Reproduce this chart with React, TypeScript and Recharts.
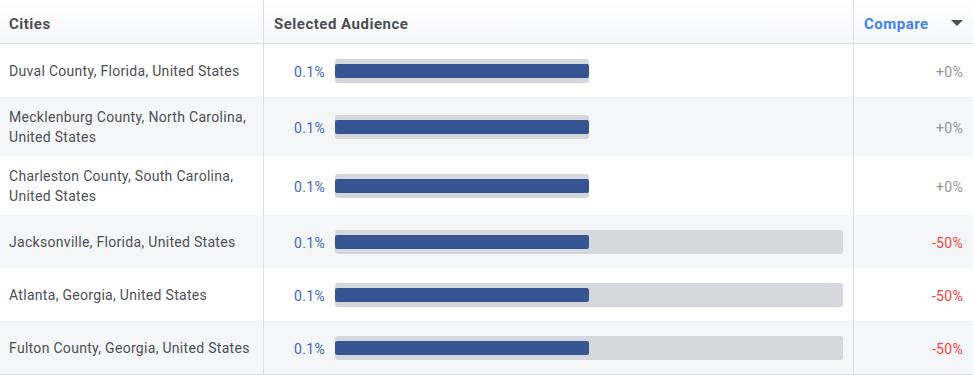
import { BarChart, Bar, XAxis, YAxis } from "recharts";

const cities = [
  "Duval County, Florida, United States",
  "Mecklenburg County, North Carolina, United States",
  "Charleston County, South Carolina, United States",
  "Jacksonville, Florida, United States",
  "Atlanta, Georgia, United States",
  "Fulton County, Georgia, United States",
];
const selected = [0.1, 0.1, 0.1, 0.1, 0.1, 0.1];
const compare = [0.1, 0.1, 0.1, 0.2, 0.2, 0.2];
const changes = ["+0%", "+0%", "+0%", "-50%", "-50%", "-50%"];

const FONT = "Roboto, 'Helvetica Neue', Arial, sans-serif";
const BORDER = "#dddfe2";
const TEXT = "#4b4f56";

function RowBar({ city, sel, cmp }: { city: string; sel: number; cmp: number }) {
  const data = [{ city, sel, cmp }];
  return (
    <BarChart width={508} height={53} data={data} layout="vertical" margin={{ top: 0, right: 0, bottom: 0, left: 0 }}>
      <XAxis type="number" domain={[0, 0.2]} hide />
      <YAxis yAxisId="track" type="category" dataKey="city" hide />
      <YAxis yAxisId="fill" type="category" dataKey="city" hide />
      <Bar yAxisId="track" dataKey="cmp" fill="#d4d7dc" barSize={24} radius={3} isAnimationActive={false} />
      <Bar yAxisId="fill" dataKey="sel" fill="#365491" barSize={14} radius={2} isAnimationActive={false} />
    </BarChart>
  );
}

export default function App() {
  return (
    <div
      style={{
        width: 973,
        height: 375,
        fontFamily: FONT,
        fontSize: 14,
        letterSpacing: "0.3px",
        color: TEXT,
        background: "#fff",
        overflow: "hidden",
      }}
    >
      <style>{"body{margin:0}"}</style>
      <div
        style={{
          display: "flex",
          height: 43,
          borderBottom: `1px solid ${BORDER}`,
          background: "linear-gradient(#ffffff, #f6f7f9)",
          fontWeight: 700,
          fontSize: 15,
          letterSpacing: "0.5px",
          lineHeight: "38px",
          boxSizing: "content-box",
        }}
      >
        <div style={{ width: 264, padding: "5px 0 0 9px", boxSizing: "border-box", borderRight: `1px solid ${BORDER}` }}>Cities</div>
        <div style={{ width: 590, padding: "5px 0 0 10px", boxSizing: "border-box", borderRight: `1px solid ${BORDER}` }}>
          Selected Audience
        </div>
        <div style={{ flex: 1, padding: "5px 0 0 10px", color: "#4080ff", position: "relative" }}>
          Compare
          <span
            style={{
              position: "absolute",
              right: 10,
              top: 20,
              width: 0,
              height: 0,
              borderLeft: "6px solid transparent",
              borderRight: "6px solid transparent",
              borderTop: `6px solid ${TEXT}`,
            }}
          />
        </div>
      </div>
      <div style={{ borderBottom: `1px solid ${BORDER}` }}>
        {cities.map((c, i) => (
          <div key={c} style={{ display: "flex", minHeight: 53, background: i % 2 === 1 ? "#f5f6f7" : "#fff" }}>
            <div
              style={{
                width: 264,
                boxSizing: "border-box",
                padding: "10px 4px 9px 9px",
                lineHeight: "20px",
                display: "flex",
                alignItems: "center",
                borderRight: `1px solid ${BORDER}`,
              }}
            >
              {c}
            </div>
            <div
              style={{
                width: 590,
                boxSizing: "border-box",
                display: "flex",
                alignItems: "center",
                borderRight: `1px solid ${BORDER}`,
              }}
            >
              <div style={{ width: 61, textAlign: "right", color: "#4267b2", position: "relative", top: 1 }}>{`${selected[i]}%`}</div>
              <div style={{ marginLeft: 10 }}>
                <RowBar city={c} sel={selected[i]} cmp={compare[i]} />
              </div>
            </div>
            <div
              style={{
                flex: 1,
                display: "flex",
                alignItems: "center",
                justifyContent: "flex-end",
                paddingRight: 10,
                paddingTop: 2,
                color: changes[i].startsWith("-") ? "#fa3e3e" : "#90949c",
              }}
            >
              {changes[i]}
            </div>
          </div>
        ))}
      </div>
    </div>
  );
}
